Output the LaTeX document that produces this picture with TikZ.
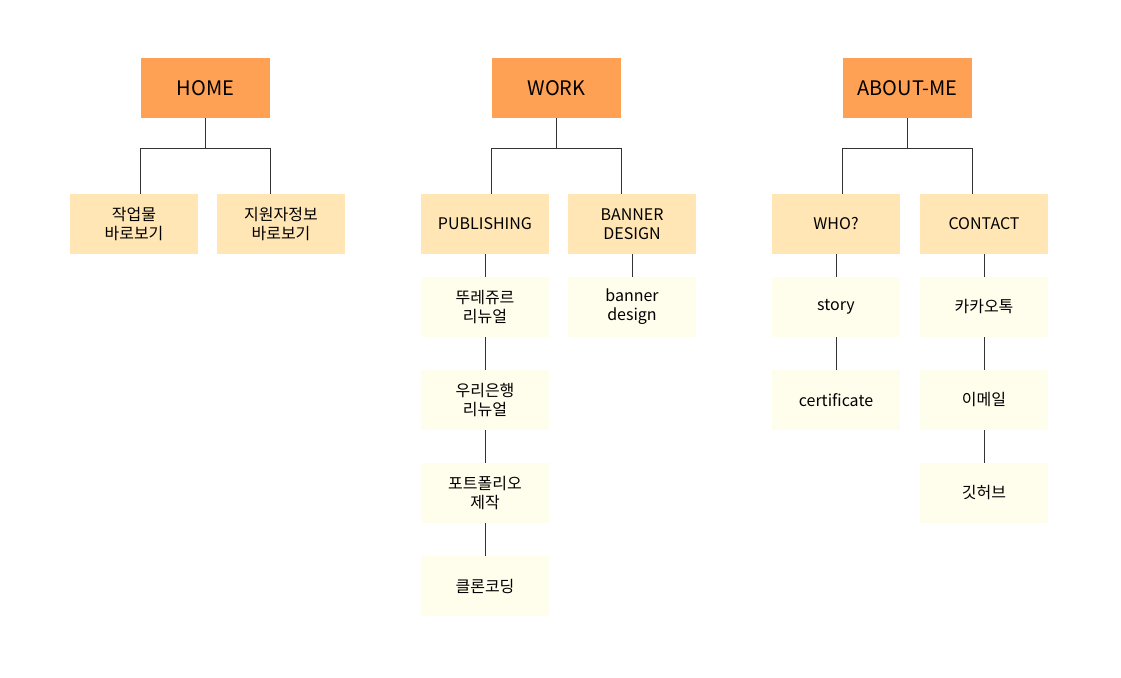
\documentclass[tikz,border=0pt]{standalone}
\usepackage{fontspec}
\setmainfont{Noto Sans CJK KR}
\usepackage{tikz}
\definecolor{orange400}{HTML}{FFA154}
\definecolor{orange100}{HTML}{FFE6B4}
\definecolor{yellow50}{HTML}{FFFDEB}
\definecolor{gray800}{HTML}{333333}
\tikzstyle{topmenu}=[rectangle, fill=orange400, minimum width=129pt, minimum height=60pt, inner sep=0pt, font=\fontsize{20}{24}\selectfont]
\tikzstyle{submenu}=[rectangle, fill=orange100, minimum width=128pt, minimum height=60pt, inner sep=0pt, align=center, font=\fontsize{16}{19}\selectfont]
\tikzstyle{leaf}=[submenu, fill=yellow50]
\tikzstyle{link}=[draw=gray800, line width=0.9pt]

\begin{document}
\begin{tikzpicture}[x=1pt, y=-1pt]
	\useasboundingbox (0,0) rectangle (1121,677);
	\node[topmenu] (home) at (205.5,88){HOME};
	\node[topmenu] (work) at (556.5,88){WORK};
	\node[topmenu] (about) at (907.5,88){ABOUT-ME};
	\node[submenu] (h1) at (134,224){작업물\\바로보기};
	\node[submenu] (h2) at (281,224){지원자정보\\바로보기};
	\node[submenu] (w1) at (485,224){PUBLISHING};
	\node[submenu] (w2) at (632,224){BANNER\\DESIGN};
	\node[submenu] (a1) at (836,224){WHO?};
	\node[submenu] (a2) at (984,224){CONTACT};
	\node[leaf] (p1) at (485,307){뚜레쥬르\\리뉴얼};
	\node[leaf] (p2) at (485,400){우리은행\\리뉴얼};
	\node[leaf] (p3) at (485,493){포트폴리오\\제작};
	\node[leaf] (p4) at (485,586){클론코딩};
	\node[leaf] (b1) at (632,307){banner\\design};
	\node[leaf] (s1) at (836,307){story};
	\node[leaf] (s2) at (836,400){certificate};
	\node[leaf] (c1) at (984,307){카카오톡};
	\node[leaf] (c2) at (984,400){이메일};
	\node[leaf] (c3) at (984,493){깃허브};
	% top level branches
	\foreach \top/\left/\right in {home/h1/h2, work/w1/w2, about/a1/a2}{
		\coordinate (j) at ([yshift=-30pt]\top.south);
		\path[link] (\top.south) -- (j);
		\path[link] (\left.north -| \top.west) |- (j) -| (\right.north -| \top.east);
	}
	% vertical chains
	\path[link] (w1) -- (p1) (p1) -- (p2) (p2) -- (p3) (p3) -- (p4);
	\path[link] (w2) -- (b1);
	\path[link] (a1) -- (s1) (s1) -- (s2);
	\path[link] (a2) -- (c1) (c1) -- (c2) (c2) -- (c3);
\end{tikzpicture}
\end{document}
